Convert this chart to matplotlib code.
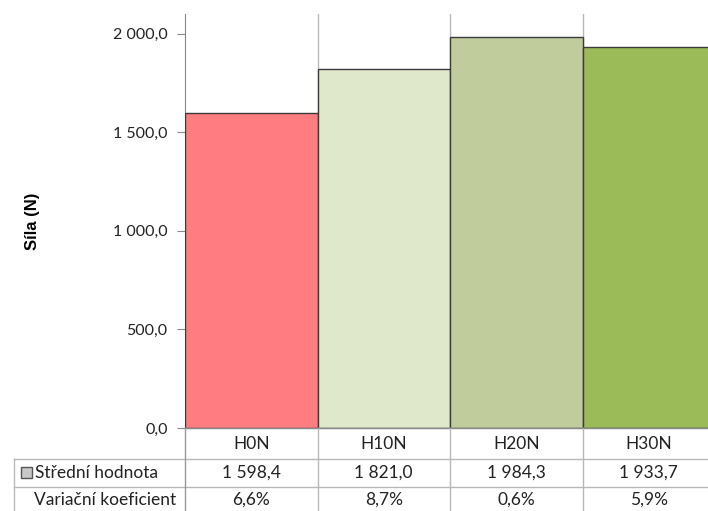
import matplotlib
matplotlib.use("Agg")
import matplotlib.pyplot as plt
from matplotlib.lines import Line2D
from matplotlib.patches import Rectangle

plt.rcParams['font.family'] = ['Lato', 'DejaVu Sans']

categories = ["H0N", "H10N", "H20N", "H30N"]
mean_values = [1598.4, 1821.0, 1984.3, 1933.7]
variation = ["6,6%", "8,7%", "0,6%", "5,9%"]
y_ticks = [0, 500, 1000, 1500, 2000]
y_tick_labels = ["0,0", "500,0", "1 000,0", "1 500,0", "2 000,0"]
bar_colors = ["#FF7C80", "#E0E8CC", "#C0CC9C", "#9BBB59"]
row_labels = ["Střední hodnota", "Variační koeficient"]

W, H = 708, 511
fig = plt.figure(figsize=(W / 100, H / 100), dpi=100)

# plot area in pixel coordinates
left, right, top, bottom = 185, 715, 14, 428
ax = fig.add_axes([left / W, 1 - bottom / H, (right - left) / W, (bottom - top) / H])
x = list(range(len(categories)))
ax.bar(x, mean_values, width=1.0, color=bar_colors, edgecolor="#3a3a3a", linewidth=1.0, zorder=3)
ax.set_xlim(-0.5, len(categories) - 0.5)
ax.set_ylim(0, 2100)
ax.set_yticks(y_ticks)
ax.set_yticklabels(y_tick_labels, fontsize=11.5, color="#222222")
ax.tick_params(axis="y", length=5.5, color="#888888", pad=7)
ax.set_xticks([])
for s in ["top", "right", "bottom"]:
    ax.spines[s].set_visible(False)
ax.spines["left"].set_color("#888888")
for b in [0.5, 1.5, 2.5]:
    ax.axvline(b, color="#b8b8b8", linewidth=1, zorder=1)

# data table below the plot, drawn in pixel coordinates
tab = fig.add_axes([0, 0, 1, 1], facecolor="none")
tab.set_xlim(0, W)
tab.set_ylim(H, 0)
tab.axis("off")
tab.text(32, 221, "Síla (N)", rotation=90, ha="center", va="center",
         fontsize=12, fontweight="bold", family=["Liberation Sans", "DejaVu Sans"])

col_w = (right - left) / len(categories)
col_edges = [left + i * col_w for i in range(len(categories) + 1)]
grid = dict(color="#b8b8b8", linewidth=1)
row1, row2 = 459, 487
tab.add_line(Line2D([left, W], [bottom, bottom], color="#888888", linewidth=1))
tab.add_line(Line2D([14, W], [row1, row1], **grid))
tab.add_line(Line2D([14, W], [row2, row2], **grid))
tab.add_line(Line2D([14, 14], [row1, H], **grid))
tab.add_line(Line2D([left, left], [bottom, H], color="#999999", linewidth=1))
for xe in col_edges[1:-1]:
    tab.add_line(Line2D([xe, xe], [bottom, H], **grid))

fs = 12.5
for i, c in enumerate(categories):
    cx = (col_edges[i] + col_edges[i + 1]) / 2
    tab.text(cx, 444, c, ha="center", va="center", fontsize=fs, color="#222222")
    tab.text(cx, 473, f"{mean_values[i]:,.1f}".replace(",", " ").replace(".", ","),
             ha="center", va="center", fontsize=fs, color="#222222")
    tab.text(cx, 500, variation[i], ha="center", va="center", fontsize=fs, color="#222222")

tab.add_patch(Rectangle((21, 467), 11, 11, facecolor="#c8c8c8", edgecolor="#555555", linewidth=1))
tab.text(35, 473, row_labels[0], ha="left", va="center", fontsize=fs, color="#222222")
tab.text(176, 500, row_labels[1], ha="right", va="center", fontsize=fs, color="#222222")

fig.savefig("out.png", dpi=100)
